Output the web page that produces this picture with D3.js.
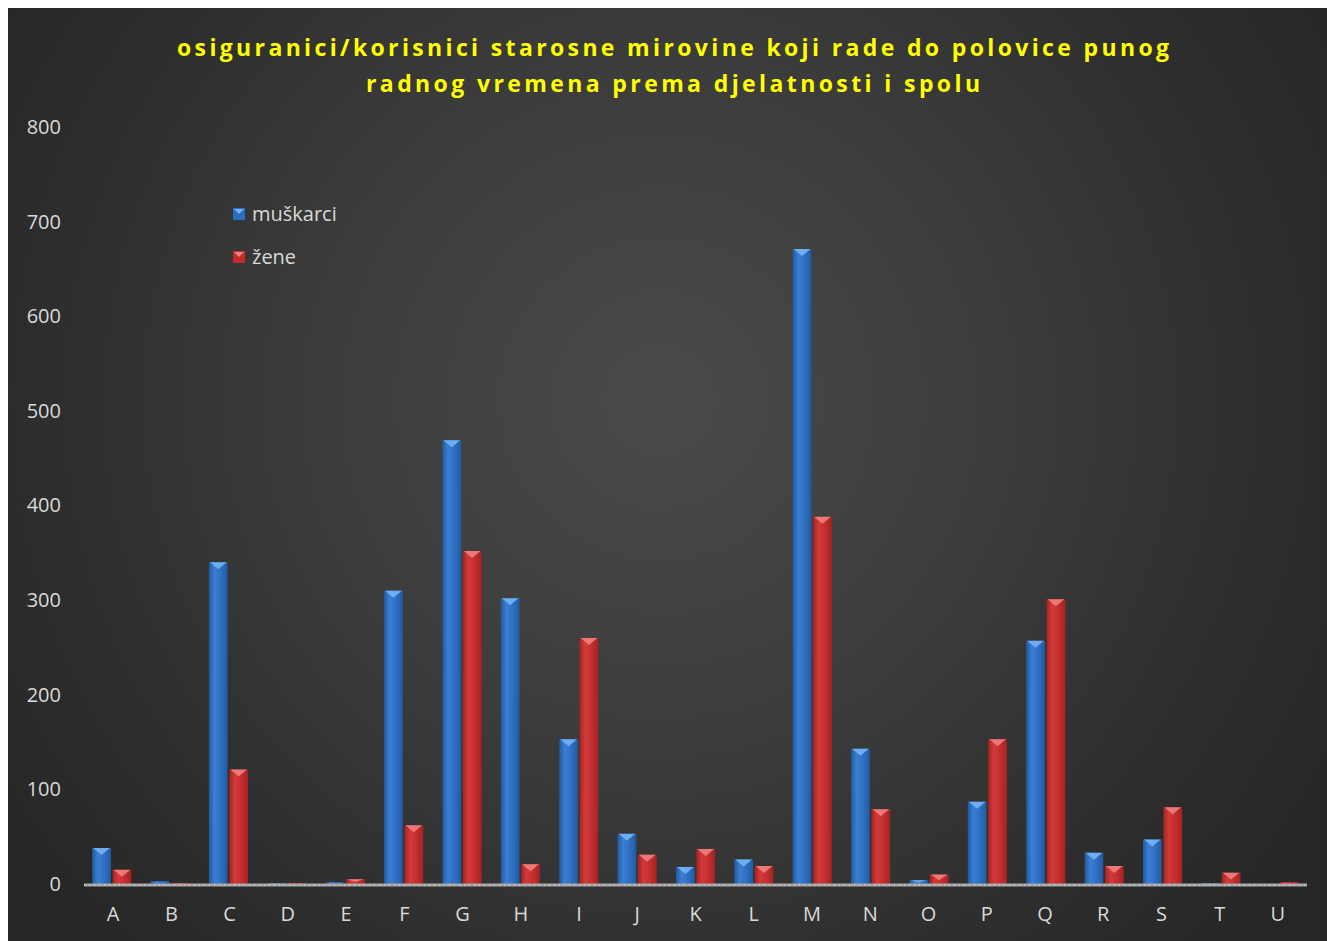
<!DOCTYPE html>
<html>
<head>
<meta charset="utf-8">
<script src="https://cdn.jsdelivr.net/npm/d3@7"></script>
<style>
	body { margin: 0; background: #fff; }
	svg { display: block; }
</style>
</head>
<body>
<div id="chart"></div>
<script>
const categories = ["A","B","C","D","E","F","G","H","I","J","K","L","M","N","O","P","Q","R","S","T","U"];
const muskarci = [38, 3, 340, 1, 2, 310, 469, 302, 153, 53, 18, 26, 671, 143, 4, 87, 257, 33, 47, 1, 0];
const zene = [15, 1, 121, 1, 5, 62, 352, 21, 260, 31, 37, 19, 388, 79, 10, 153, 301, 19, 81, 12, 2];
const yTicks = [0, 100, 200, 300, 400, 500, 600, 700, 800];
const titleLines = [
	"osiguranici/korisnici starosne mirovine koji rade do polovice punog",
	"radnog vremena prema djelatnosti i spolu",
];

const size = { w: 1327, h: 941 };
const margin = { t: 127, r: 20, b: 57, l: 84 };

const svg = d3
	.select("#chart")
	.append("svg")
	.attr("width", size.w)
	.attr("height", size.h);

const defs = svg.append("defs");

const bg = defs
	.append("radialGradient")
	.attr("id", "bg")
	.attr("gradientUnits", "userSpaceOnUse")
	.attr("cx", 660)
	.attr("cy", 400)
	.attr("r", 800);
bg.append("stop").attr("offset", 0).attr("stop-color", "#4a4a4a");
bg.append("stop").attr("offset", 0.4).attr("stop-color", "#3d3d3d");
bg.append("stop").attr("offset", 0.75).attr("stop-color", "#2e2e2e");
bg.append("stop").attr("offset", 1).attr("stop-color", "#262626");

function barGradient(id, dark, mid, light) {
	const g = defs.append("linearGradient").attr("id", id).attr("x1", 0).attr("x2", 1);
	g.append("stop").attr("offset", 0).attr("stop-color", dark);
	g.append("stop").attr("offset", 0.3).attr("stop-color", light);
	g.append("stop").attr("offset", 0.7).attr("stop-color", mid);
	g.append("stop").attr("offset", 1).attr("stop-color", dark);
}
barGradient("blueGrad", "#22599e", "#2d6dbf", "#3a7fd4");
barGradient("redGrad", "#a52222", "#c02c2c", "#d33a3a");

svg.append("rect")
	.attr("x", 8)
	.attr("y", 8)
	.attr("width", size.w - 8)
	.attr("height", size.h - 8)
	.attr("fill", "url(#bg)");

// title
svg.append("g")
	.selectAll("text")
	.data(titleLines)
	.join("text")
	.attr("x", 673)
	.attr("y", (d, i) => 56 + i * 36)
	.attr("text-anchor", "middle")
	.attr("textLength", (d, i) => (i === 0 ? 992 : 614))
	.attr("lengthAdjust", "spacing")
	.attr("fill", "#ffff00")
	.style("font-family", "'Open Sans', 'Noto Sans', sans-serif")
	.style("font-weight", "bold")
	.style("font-size", "23px")
	.text((d) => d);

const x = d3
	.scaleBand()
	.domain(categories)
	.range([margin.l, size.w - margin.r])
	.paddingInner(0.33)
	.paddingOuter(0.14);

const inner = d3.scaleBand().domain(["m", "z"]).range([0, x.bandwidth()]).paddingInner(0.08);

const y = d3
	.scaleLinear()
	.domain([0, 800])
	.range([size.h - margin.b, margin.t]);

// y axis labels
const yAxis = svg
	.append("g")
	.attr("transform", `translate(${margin.l - 23},0)`)
	.call(d3.axisLeft(y).tickValues(yTicks).tickSize(0).tickPadding(0));
yAxis.select(".domain").remove();
yAxis.selectAll("text")
	.attr("fill", "#d9d9d9")
	.style("font-family", "'Open Sans', sans-serif")
	.style("font-size", "20px");

// x axis labels
const xAxis = svg
	.append("g")
	.attr("transform", `translate(0,${y(0) + 23})`)
	.call(d3.axisBottom(x.copy().paddingInner(0).paddingOuter(0)).tickSize(0).tickPadding(0));
xAxis.select(".domain").remove();
xAxis.selectAll("text")
	.attr("fill", "#d9d9d9")
	.style("font-family", "'Open Sans', sans-serif")
	.style("font-size", "20px");

const series = [
	{ key: "m", name: "muškarci", values: muskarci, fill: "url(#blueGrad)", cap: "#74b4f5", base: "#2d6dbf" },
	{ key: "z", name: "žene", values: zene, fill: "url(#redGrad)", cap: "#f08080", base: "#c02c2c" },
];

const barsG = svg.append("g");
series.forEach((s) => {
	const g = barsG.append("g");
	const data = categories.map((c, i) => ({ cat: c, v: s.values[i] }));
	const bx = (d) => x(d.cat) + inner(s.key);
	const bw = inner.bandwidth();
	g.selectAll("rect")
		.data(data)
		.join("rect")
		.attr("x", bx)
		.attr("y", (d) => y(d.v))
		.attr("width", bw)
		.attr("height", (d) => y(0) - y(d.v))
		.attr("fill", s.fill);
	// light chevron top
	g.selectAll("path")
		.data(data.filter((d) => y(0) - y(d.v) > 3))
		.join("path")
		.attr("d", (d) => {
			const x0 = bx(d);
			const y0 = y(d.v);
			const hh = Math.min(7, (y(0) - y(d.v)) * 0.6);
			return `M${x0 + 1},${y0}L${x0 + bw - 1},${y0}L${x0 + bw / 2},${y0 + hh}Z`;
		})
		.attr("fill", s.cap)
		.attr("opacity", 0.9);
});

// baseline
svg.append("line")
	.attr("x1", margin.l)
	.attr("x2", size.w - margin.r)
	.attr("y1", y(0) + 1)
	.attr("y2", y(0) + 1)
	.attr("stroke", "#a6a6a6")
	.attr("stroke-width", 3);
svg.append("line")
	.attr("x1", margin.l)
	.attr("x2", size.w - margin.r)
	.attr("y1", y(0) + 1)
	.attr("y2", y(0) + 1)
	.attr("stroke", "#e8e8e8")
	.attr("stroke-width", 1)
	.attr("stroke-dasharray", "1,4");

// legend
const legend = svg
	.append("g")
	.selectAll("g")
	.data(series)
	.join("g")
	.attr("transform", (d, i) => `translate(233,${208 + i * 43})`);
legend.append("rect").attr("width", 12).attr("height", 12).attr("fill", (d) => d.base);
legend.append("path")
	.attr("d", "M1,1L11,1L6,6Z")
	.attr("fill", (d) => d.cap);
legend.append("text")
	.attr("x", 19)
	.attr("y", 6)
	.attr("dy", "0.35em")
	.attr("fill", "#d9d9d9")
	.style("font-family", "'Open Sans', sans-serif")
	.style("font-size", "20px")
	.text((d) => d.name);
</script>
</body>
</html>
